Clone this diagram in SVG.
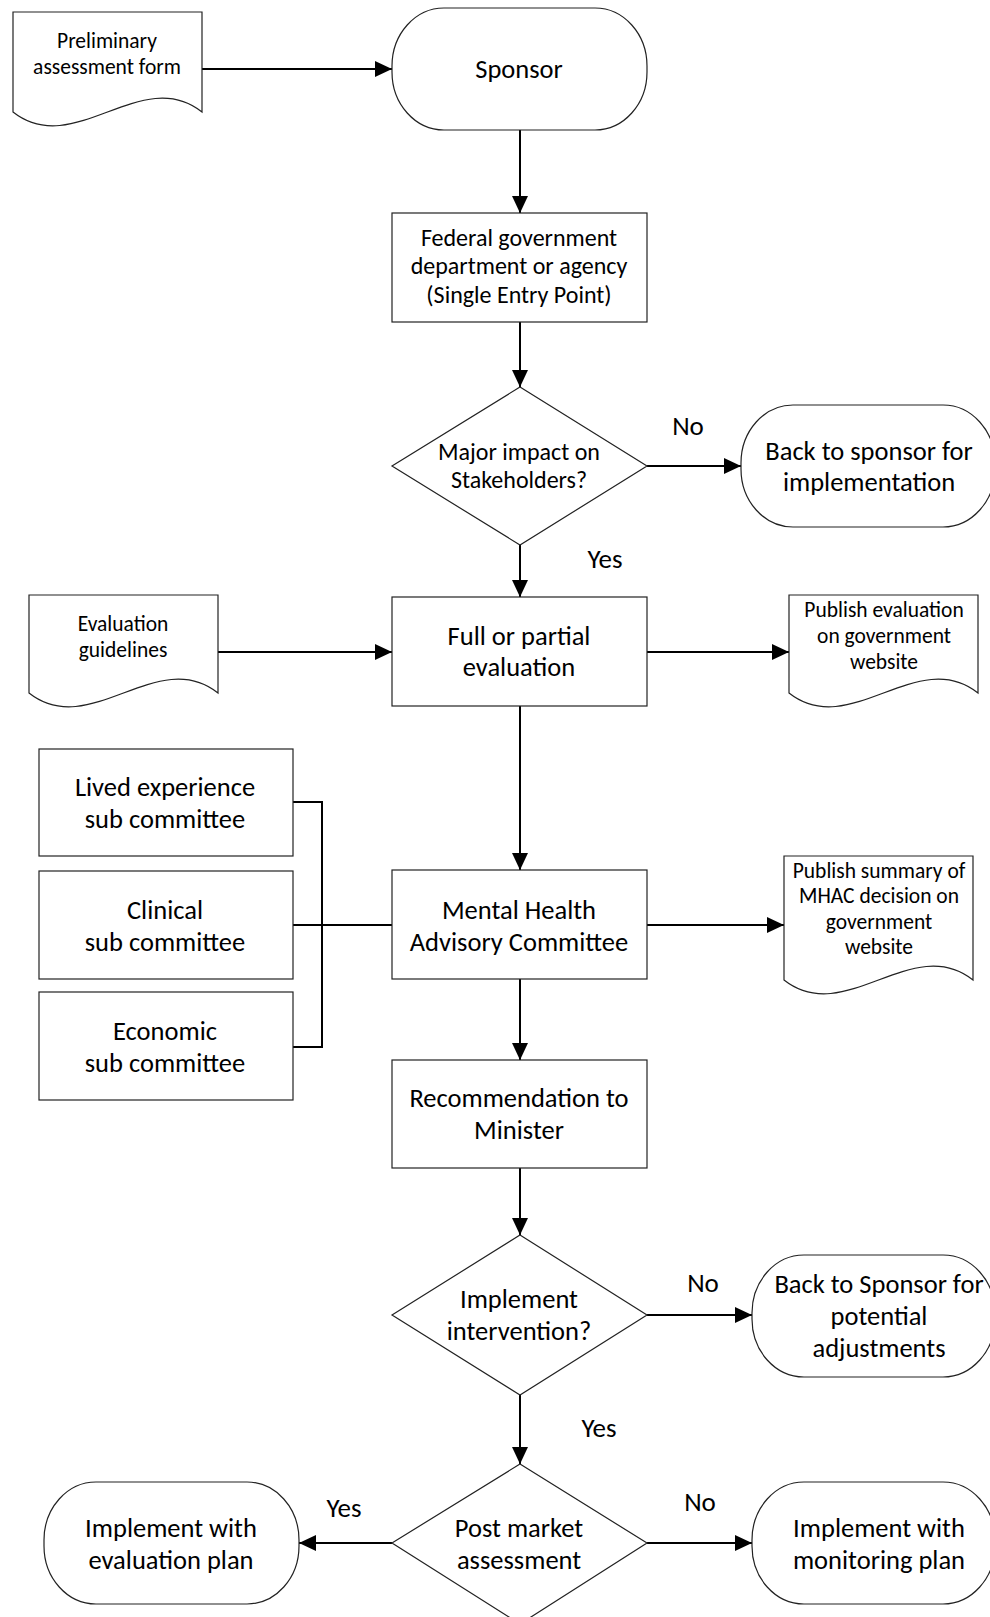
<svg xmlns="http://www.w3.org/2000/svg" width="990" height="1617" viewBox="0 0 990 1617">
  <style>
    .shape { fill: #ffffff; stroke: #222222; stroke-width: 1.2; }
    .conn { fill: none; stroke: #000000; stroke-width: 2; }
    .t { font-family: Carlito, Lato, "Liberation Sans", sans-serif; font-size: 26.5px; fill: #000000; text-anchor: middle; }
    .tm { font-family: Carlito, Lato, "Liberation Sans", sans-serif; font-size: 24px; fill: #000000; text-anchor: middle; }
    .ts { font-family: Carlito, Lato, "Liberation Sans", sans-serif; font-size: 21.5px; fill: #000000; text-anchor: middle; }
    .lbl { font-family: Carlito, Lato, "Liberation Sans", sans-serif; font-size: 27px; fill: #000000; text-anchor: middle; }
  </style>
  <defs>
    <marker id="arrow" markerUnits="userSpaceOnUse" markerWidth="18" markerHeight="16" refX="17" refY="8" orient="auto">
      <path d="M0,0 L17,8 L0,16 Z" fill="#000000"/>
    </marker>
  </defs>

  <!-- connectors -->
  <g id="connectors">
    <line class="conn" x1="202" y1="69" x2="392" y2="69" marker-end="url(#arrow)"/>
    <line class="conn" x1="520" y1="130" x2="520" y2="213" marker-end="url(#arrow)"/>
    <line class="conn" x1="520" y1="322" x2="520" y2="387" marker-end="url(#arrow)"/>
    <line class="conn" x1="647" y1="466" x2="741" y2="466" marker-end="url(#arrow)"/>
    <line class="conn" x1="520" y1="545" x2="520" y2="597" marker-end="url(#arrow)"/>
    <line class="conn" x1="218" y1="652" x2="392" y2="652" marker-end="url(#arrow)"/>
    <line class="conn" x1="647" y1="652" x2="789" y2="652" marker-end="url(#arrow)"/>
    <line class="conn" x1="520" y1="706" x2="520" y2="870" marker-end="url(#arrow)"/>
    <polyline class="conn" points="293,802 322,802 322,1047 293,1047"/>
    <line class="conn" x1="293" y1="925" x2="392" y2="925"/>
    <line class="conn" x1="647" y1="925" x2="784" y2="925" marker-end="url(#arrow)"/>
    <line class="conn" x1="520" y1="979" x2="520" y2="1060" marker-end="url(#arrow)"/>
    <line class="conn" x1="520" y1="1168" x2="520" y2="1235" marker-end="url(#arrow)"/>
    <line class="conn" x1="647" y1="1315" x2="752" y2="1315" marker-end="url(#arrow)"/>
    <line class="conn" x1="520" y1="1395" x2="520" y2="1464" marker-end="url(#arrow)"/>
    <line class="conn" x1="392" y1="1543" x2="299" y2="1543" marker-end="url(#arrow)"/>
    <line class="conn" x1="647" y1="1543" x2="752" y2="1543" marker-end="url(#arrow)"/>
    <text class="lbl" x="688" y="435">No</text>
    <text class="lbl" x="605" y="568">Yes</text>
    <text class="lbl" x="703" y="1292">No</text>
    <text class="lbl" x="599" y="1437">Yes</text>
    <text class="lbl" x="344" y="1517">Yes</text>
    <text class="lbl" x="700" y="1511">No</text>
  </g>

  <!-- document: preliminary assessment form -->
  <g id="prelim-form">
    <path class="shape" d="M13,12 H202 V112 C141,64 74,160 13,112 Z"/>
    <text class="ts" x="107" y="48">Preliminary</text>
    <text class="ts" x="107" y="74">assessment form</text>
  </g>

  <g id="sponsor">
    <rect class="shape" x="392" y="8" width="255" height="122" rx="52" ry="58"/>
    <text class="t" x="519" y="77.5">Sponsor</text>
  </g>

  <g id="federal">
    <rect class="shape" x="392" y="213" width="255" height="109"/>
    <text class="tm" x="519" y="246">Federal government</text>
    <text class="tm" x="519" y="274">department or agency</text>
    <text class="tm" x="519" y="303">(Single Entry Point)</text>
  </g>

  <g id="decision-impact">
    <polygon class="shape" points="520,387 647,466 520,545 392,466"/>
    <text class="tm" x="519" y="460">Major impact on</text>
    <text class="tm" x="519" y="488">Stakeholders?</text>
  </g>

  <g id="back-sponsor-impl">
    <rect class="shape" x="741" y="405" width="254" height="122" rx="52" ry="58"/>
    <text class="t" x="869" y="459.5">Back to sponsor for</text>
    <text class="t" x="869" y="490.5">implementation</text>
  </g>

  <g id="eval-guidelines">
    <path class="shape" d="M29,595 H218 V693 C157,645 90,741 29,693 Z"/>
    <text class="ts" x="123" y="631">Evaluation</text>
    <text class="ts" x="123" y="657">guidelines</text>
  </g>

  <g id="full-eval">
    <rect class="shape" x="392" y="597" width="255" height="109"/>
    <text class="t" x="519" y="644.5">Full or partial</text>
    <text class="t" x="519" y="675.5">evaluation</text>
  </g>

  <g id="publish-eval">
    <path class="shape" d="M789,595 H978 V693 C917,645 850,741 789,693 Z"/>
    <text class="ts" x="884" y="617">Publish evaluation</text>
    <text class="ts" x="884" y="643">on government</text>
    <text class="ts" x="884" y="669">website</text>
  </g>

  <g id="lived-exp">
    <rect class="shape" x="39" y="749" width="254" height="107"/>
    <text class="t" x="165" y="795.5">Lived experience</text>
    <text class="t" x="165" y="827.5">sub committee</text>
  </g>

  <g id="clinical">
    <rect class="shape" x="39" y="871" width="254" height="108"/>
    <text class="t" x="165" y="918.5">Clinical</text>
    <text class="t" x="165" y="950.5">sub committee</text>
  </g>

  <g id="economic">
    <rect class="shape" x="39" y="992" width="254" height="108"/>
    <text class="t" x="165" y="1039.5">Economic</text>
    <text class="t" x="165" y="1071.5">sub committee</text>
  </g>

  <g id="mhac">
    <rect class="shape" x="392" y="870" width="255" height="109"/>
    <text class="t" x="519" y="918.5">Mental Health</text>
    <text class="t" x="519" y="950.5">Advisory Committee</text>
  </g>

  <g id="publish-summary">
    <path class="shape" d="M784,856 H973 V980 C912,932 845,1028 784,980 Z"/>
    <text class="ts" x="879" y="878">Publish summary of</text>
    <text class="ts" x="879" y="903">MHAC decision on</text>
    <text class="ts" x="879" y="929">government</text>
    <text class="ts" x="879" y="954">website</text>
  </g>

  <g id="recommendation">
    <rect class="shape" x="392" y="1060" width="255" height="108"/>
    <text class="t" x="519" y="1106.5">Recommendation to</text>
    <text class="t" x="519" y="1138.5">Minister</text>
  </g>

  <g id="decision-implement">
    <polygon class="shape" points="520,1235 647,1315 520,1395 392,1315"/>
    <text class="t" x="519" y="1307.5">Implement</text>
    <text class="t" x="519" y="1339.5">intervention?</text>
  </g>

  <g id="back-sponsor-adjust">
    <rect class="shape" x="752" y="1255" width="243" height="122" rx="52" ry="58"/>
    <text class="t" x="879" y="1292.5">Back to Sponsor for</text>
    <text class="t" x="879" y="1324.5">potential</text>
    <text class="t" x="879" y="1356.5">adjustments</text>
  </g>

  <g id="decision-postmarket">
    <polygon class="shape" points="520,1464 647,1543 520,1624 392,1543"/>
    <text class="t" x="519" y="1536.5">Post market</text>
    <text class="t" x="519" y="1568.5">assessment</text>
  </g>

  <g id="impl-eval-plan">
    <rect class="shape" x="44" y="1482" width="255" height="122" rx="52" ry="58"/>
    <text class="t" x="171" y="1536.5">Implement with</text>
    <text class="t" x="171" y="1568.5">evaluation plan</text>
  </g>

  <g id="impl-monitor-plan">
    <rect class="shape" x="752" y="1482" width="243" height="122" rx="52" ry="58"/>
    <text class="t" x="879" y="1536.5">Implement with</text>
    <text class="t" x="879" y="1568.5">monitoring plan</text>
  </g>
</svg>
